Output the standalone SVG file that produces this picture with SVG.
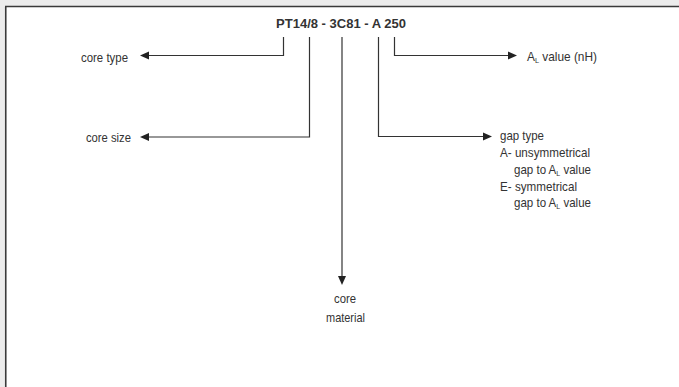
<svg xmlns="http://www.w3.org/2000/svg" width="679" height="387" viewBox="0 0 679 387">
<style>
.lbl{font-family:"Liberation Sans",Arial,sans-serif;font-size:13px;fill:#333}
.ttl{font-family:"Liberation Sans",Arial,sans-serif;font-size:13px;font-weight:bold;fill:#333}
.ln{fill:none;stroke:#333;stroke-width:1.2}
.ah{fill:#222}
.sub{font-size:8px;baseline-shift:-2px}
</style>
<rect x="0" y="0" width="679" height="387" fill="#ececec"/>
<rect x="6" y="7" width="673" height="380" fill="#fff"/>
<path d="M5.75,7 V387 M5,6.5 H679" stroke="#3a3a3a" stroke-width="1.6" fill="none"/>
<g id="title"><text class="ttl" x="341" y="28" text-anchor="middle">PT14/8 - 3C81 - A 250</text></g>
<g id="connectors">
<path class="ln" d="M283.5,37 V55.5 H148"/>
<polygon class="ah" points="140,55.5 149,51.5 149,59.5"/>
<path class="ln" d="M309.5,37 V137 H148"/>
<polygon class="ah" points="140,137 149,133 149,141"/>
<path class="ln" d="M342,37 V277"/>
<polygon class="ah" points="342,285 338,276 346,276"/>
<path class="ln" d="M378.5,37 V136.5 H484"/>
<polygon class="ah" points="492,136.5 483,132.5 483,140.5"/>
<path class="ln" d="M394.5,37 V55.5 H509"/>
<polygon class="ah" points="517,55.5 508,51.5 508,59.5"/>
</g>
<g id="core-type"><text class="lbl" x="81" y="62" textLength="47" lengthAdjust="spacingAndGlyphs">core type</text></g>
<g id="core-size"><text class="lbl" x="86" y="141.5" textLength="45" lengthAdjust="spacingAndGlyphs">core size</text></g>
<g id="core-material"><text class="lbl" x="334" y="303" textLength="22" lengthAdjust="spacingAndGlyphs">core</text><text class="lbl" x="326" y="322" textLength="39" lengthAdjust="spacingAndGlyphs">material</text></g>
<g id="al-value"><text class="lbl" x="527" y="60.5" textLength="70" lengthAdjust="spacingAndGlyphs">A<tspan class="sub">L</tspan> value (nH)</text></g>
<g id="gap-type">
<text class="lbl" x="500" y="140" textLength="44" lengthAdjust="spacingAndGlyphs">gap type</text>
<text class="lbl" x="500" y="156.5" textLength="90" lengthAdjust="spacingAndGlyphs">A- unsymmetrical</text>
<text class="lbl" x="514" y="173.5" textLength="77" lengthAdjust="spacingAndGlyphs">gap to A<tspan class="sub">L</tspan> value</text>
<text class="lbl" x="500" y="190.5" textLength="77" lengthAdjust="spacingAndGlyphs">E- symmetrical</text>
<text class="lbl" x="514" y="207" textLength="77" lengthAdjust="spacingAndGlyphs">gap to A<tspan class="sub">L</tspan> value</text>
</g>
</svg>
